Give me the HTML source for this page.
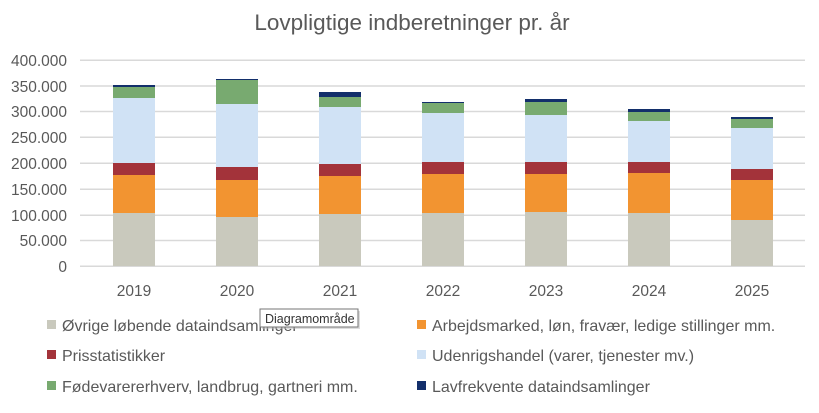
<!DOCTYPE html>
<html><head><meta charset="utf-8"><style>
body{margin:0;background:#fff;}
svg text{font-family:"Liberation Sans",sans-serif;fill:#595959;}
</style></head><body>
<svg width="819" height="408" xmlns="http://www.w3.org/2000/svg">
<rect width="819" height="408" fill="#fff"/>
<text x="412" y="30" font-size="22.5" text-anchor="middle">Lovpligtige indberetninger pr. år</text>
<g stroke="#d9d9d9" stroke-width="1.5">
<line x1="80" x2="805" y1="60.3" y2="60.3"/><line x1="80" x2="805" y1="86" y2="86"/>
<line x1="80" x2="805" y1="111.5" y2="111.5"/><line x1="80" x2="805" y1="137.3" y2="137.3"/>
<line x1="80" x2="805" y1="163.3" y2="163.3"/><line x1="80" x2="805" y1="189.3" y2="189.3"/>
<line x1="80" x2="805" y1="215.3" y2="215.3"/><line x1="80" x2="805" y1="240.5" y2="240.5"/>
<line x1="80" x2="805" y1="266.3" y2="266.3"/>
</g>
<g font-size="15.5" text-anchor="end">
<text x="67" y="66">400.000</text><text x="67" y="92">350.000</text><text x="67" y="117">300.000</text>
<text x="67" y="143">250.000</text><text x="67" y="169">200.000</text><text x="67" y="195">150.000</text>
<text x="67" y="221">100.000</text><text x="67" y="246">50.000</text><text x="67" y="272">0</text>
</g>
<g id="bars"></g>
<g font-size="15.5" text-anchor="middle">
<text x="134" y="296">2019</text><text x="237" y="296">2020</text><text x="340" y="296">2021</text>
<text x="443" y="296">2022</text><text x="546" y="296">2023</text><text x="649" y="296">2024</text><text x="752" y="296">2025</text>
</g>
<g font-size="16">
<rect x="47" y="320" width="9" height="9" fill="#c9c9bd"/><text x="62" y="331">Øvrige løbende dataindsamlinger</text>
<rect x="47" y="350" width="9" height="9" fill="#a3333a"/><text x="62" y="361">Prisstatistikker</text>
<rect x="47" y="381" width="9" height="9" fill="#78aa70"/><text x="62" y="392">Fødevarererhverv, landbrug, gartneri mm.</text>
<rect x="417" y="320" width="9" height="9" fill="#f29431"/><text x="432" y="331">Arbejdsmarked, løn, fravær, ledige stillinger mm.</text>
<rect x="417" y="350" width="9" height="9" fill="#d0e2f5"/><text x="432" y="361">Udenrigshandel (varer, tjenester mv.)</text>
<rect x="417" y="381" width="9" height="9" fill="#132f6b"/><text x="432" y="392">Lavfrekvente dataindsamlinger</text>
</g>
<rect x="262" y="311" width="98" height="18" fill="#bbb" opacity="0.5"/>
<rect x="260" y="309" width="98" height="18" fill="#fff" stroke="#767676"/>
<text x="265" y="323" font-size="12.5" style="fill:#333">Diagramområde</text>
</svg>
<script>
var d=[[85,87,98,163,175,213],[79,80,104,167,180,217],[92,97,107,164,176,214],[102,103,113,162,174,213],[99,102,115,162,174,212],[109,112,121,162,173,213],[117,119,128,169,180,220]];
var c=["#132f6b","#78aa70","#d0e2f5","#a3333a","#f29431","#c9c9bd"];
var g=document.getElementById("bars"),s="";
d.forEach(function(b,i){var x=113+103*i;var ys=b.concat([266]);for(var k=0;k<6;k++){s+='<rect x="'+x+'" y="'+ys[k]+'" width="42" height="'+(ys[k+1]-ys[k])+'" fill="'+c[k]+'"/>';}});
g.innerHTML=s;
</script>
</body></html>
